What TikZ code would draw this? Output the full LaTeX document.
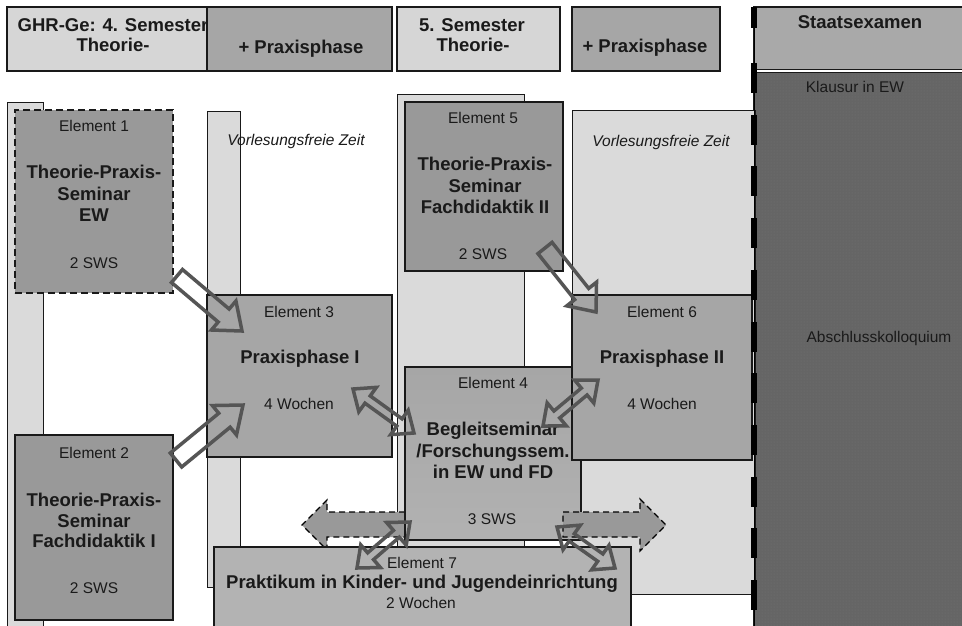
\documentclass[tikz,border=0pt]{standalone}
\usepackage{fontspec}
\setmainfont{Liberation Sans}
\usetikzlibrary{calc,patterns}
\definecolor{colLight}{HTML}{D6D6D6}
\definecolor{colCol}{HTML}{DADADA}
\definecolor{colMid}{HTML}{A6A6A6}
\definecolor{colDark}{HTML}{999999}
\definecolor{colSeven}{HTML}{B3B3B3}
\definecolor{colExam}{HTML}{A9A9A9}
\definecolor{colDeep}{HTML}{656565}
\definecolor{colDots}{HTML}{737373}
\definecolor{colArrow}{HTML}{555555}
\definecolor{colText}{HTML}{1A1A1A}
\newcommand\mysinglearrow[5]{%
  \coordinate (hh) at ($(#2)!#5!(#1)$);
  \draw[oarrow] ($(#1)!#3!90:(#2)$) -- ($(hh)!#3!-90:(#1)$) -- ($(hh)!#4!-90:(#1)$) -- (#2) -- ($(hh)!#4!90:(#1)$) -- ($(hh)!#3!90:(#1)$) -- ($(#1)!#3!-90:(#2)$) -- cycle;}
\newcommand\mydoublearrow[5]{%
  \coordinate (ha) at ($(#1)!#5!(#2)$);
  \coordinate (hb) at ($(#2)!#5!(#1)$);
  \draw[oarrow] (#1) -- ($(ha)!#4!90:(#2)$) -- ($(ha)!#3!90:(#2)$) -- ($(hb)!#3!-90:(#1)$) -- ($(hb)!#4!-90:(#1)$) -- (#2) -- ($(hb)!#4!90:(#1)$) -- ($(hb)!#3!90:(#1)$) -- ($(ha)!#3!-90:(#2)$) -- ($(ha)!#4!-90:(#2)$) -- cycle;}
\begin{document}
\begin{tikzpicture}[x=1pt,y=-1pt,
  box/.style={draw=black!90, line width=1.3pt, anchor=north west, inner sep=0pt, outer sep=0pt},
  txt/.style={anchor=base, inner sep=0pt, text=colText, font=\fontsize{15.5}{18}\selectfont},
  btxt/.style={anchor=base, inner sep=0pt, text=colText, font=\fontsize{18.5}{22}\selectfont\bfseries},
  itxt/.style={anchor=base, inner sep=0pt, text=colText, font=\fontsize{15.5}{18}\selectfont\itshape},
  oarrow/.style={draw=colArrow, line width=3.5pt, line join=miter},
  dsharrow/.style={fill=colDark, draw=black, line width=1.3pt, dash pattern=on 6pt off 4pt}]
\useasboundingbox (0,0) rectangle (962,625);
\fill[white] (0,0) rectangle (962,625);
\clip (0,0) rectangle (962,625);

% header
\node[box, fill=colLight, minimum width=200, minimum height=64] (hA) at (7,7) {};
\node[box, fill=colMid, minimum width=185, minimum height=64] (hB) at (207,7) {};
\node[box, fill=colLight, minimum width=163, minimum height=64] (hC) at (397,7) {};
\node[box, fill=colMid, minimum width=148, minimum height=64] (hD) at (572,7) {};
\node[btxt] (tA1) at (113,31) {GHR-Ge: 4. Semester};
\node[btxt] (tA2) at (113,51) {Theorie-};
\node[btxt] (tB) at (301,53) {+ Praxisphase};
\node[btxt] (tC1) at (472,31) {5. Semester};
\node[btxt] (tC2) at (473,51) {Theorie-};
\node[btxt] (tD) at (645,52) {+ Praxisphase};

% Staatsexamen
\node[box, fill=colExam, minimum width=220, minimum height=62.5] (hE) at (754,7) {};
\node[box, fill=colDeep, minimum width=220, minimum height=560] (exam) at (754,72.5) {};
\fill[pattern=dots, pattern color=colDots] (755,73.5) rectangle (962,625);
\node[btxt] (tE) at (860,28) {Staatsexamen};
\node[txt] (tK) at (855,92) {Klausur in EW};
\node[txt] (tAb) at (879,342) {Abschlusskolloquium};

% columns
\node[box, line width=1pt, fill=colCol, minimum width=36, minimum height=530] (col1) at (7,102) {};
\node[box, line width=1pt, fill=colCol, minimum width=33, minimum height=476] (col2) at (207,111) {};
\node[box, line width=1pt, fill=colCol, minimum width=127, minimum height=510] (col3) at (397,94) {};
\node[box, line width=1pt, fill=colCol, minimum width=183, minimum height=484] (col4) at (572,110) {};
\node[itxt] (vz1) at (296,145) {Vorlesungsfreie Zeit};
\node[itxt] (vz2) at (661,146) {Vorlesungsfreie Zeit};

% Element 1
\node[box, fill=colDark, dash pattern=on 7pt off 4pt, minimum width=158, minimum height=183] (e1) at (15,110) {};
\node[txt] (e1a) at (94,131) {Element 1};
\node[btxt] (e1b) at (94,178) {Theorie-Praxis-};
\node[btxt] (e1c) at (94,200) {Seminar};
\node[btxt] (e1d) at (94,221) {EW};
\node[txt] (e1e) at (94,268) {2 SWS};

% Element 2
\node[box, fill=colDark, minimum width=158, minimum height=185] (e2) at (15,435) {};
\node[txt] (e2a) at (94,458) {Element 2};
\node[btxt] (e2b) at (94,506) {Theorie-Praxis-};
\node[btxt] (e2c) at (94,527) {Seminar};
\node[btxt] (e2d) at (94,547) {Fachdidaktik I};
\node[txt] (e2e) at (94,593) {2 SWS};

% Element 3
\node[box, fill=colMid, minimum width=185, minimum height=162] (e3) at (207,295) {};
\node[txt] (e3a) at (299,317) {Element 3};
\node[btxt] (e3b) at (300,363) {Praxisphase I};
\node[txt] (e3c) at (299,409) {4 Wochen};

% Element 5
\node[box, fill=colDark, minimum width=158, minimum height=169] (e5) at (405,102) {};
\node[txt] (e5a) at (483,123) {Element 5};
\node[btxt] (e5b) at (485,170) {Theorie-Praxis-};
\node[btxt] (e5c) at (485,192) {Seminar};
\node[btxt] (e5d) at (485,213) {Fachdidaktik II};
\node[txt] (e5e) at (483,259) {2 SWS};

% left dashed arrow
\coordinate (dl1) at (405,512);
\draw[dsharrow] (dl1) -- (327,512) -- (327,500) -- (302,525) -- (327,550) -- (327,537) -- (405,537) -- cycle;

% Element 4
\node[box, top color=colMid, bottom color=colSeven!90!colMid, draw=black!90, minimum width=176, minimum height=173] (e4) at (405,367) {};
\node[txt] (e4a) at (493,388) {Element 4};
\node[btxt] (e4b) at (493,435) {Begleitseminar};
\node[btxt] (e4c) at (493,457) {/Forschungssem.};
\node[btxt] (e4d) at (493,478) {in EW und FD};
\node[txt] (e4e) at (492,524) {3 SWS};

% Element 6
\node[box, fill=colMid, minimum width=180, minimum height=165] (e6) at (572,295) {};
\node[txt] (e6a) at (662,317) {Element 6};
\node[btxt] (e6b) at (662,363) {Praxisphase II};
\node[txt] (e6c) at (662,409) {4 Wochen};

% right dashed arrow
\coordinate (dr1) at (563,512);
\draw[dsharrow] (dr1) -- (640,512) -- (640,499) -- (666,525) -- (640,551) -- (640,537) -- (563,537) -- cycle;

% Element 7
\node[box, fill=colSeven, minimum width=417, minimum height=90] (e7) at (214,547) {};
\node[txt] (e7a) at (422,568) {Element 7};
\node[btxt] (e7b) at (422,588) {Praktikum in Kinder- und Jugendeinrichtung};
\node[txt] (e7c) at (421,608) {2 Wochen};

% outline arrows
\coordinate (a1s) at (177,276); \coordinate (a1e) at (242,331);
\coordinate (a2s) at (176,460); \coordinate (a2e) at (243,405);
\coordinate (a3s) at (353,389); \coordinate (a3e) at (414,433);
\coordinate (a4s) at (543,426); \coordinate (a4e) at (598,380);
\coordinate (a5s) at (545,248); \coordinate (a5e) at (596,312);
\coordinate (a6s) at (357,568); \coordinate (a6e) at (410,522);
\coordinate (a7s) at (557,527); \coordinate (a7e) at (615,568);
\mysinglearrow{a1s}{a1e}{8.5pt}{19pt}{24pt}
\mysinglearrow{a2s}{a2e}{9pt}{19pt}{24pt}
\mysinglearrow{a5s}{a5e}{9pt}{19pt}{23pt}
\mydoublearrow{a3s}{a3e}{4.5pt}{15pt}{18pt}
\mydoublearrow{a4s}{a4e}{4.5pt}{15pt}{18pt}
\mydoublearrow{a6s}{a6e}{4.5pt}{15pt}{18pt}
\mydoublearrow{a7s}{a7e}{4.5pt}{15pt}{18pt}

% boundary line
\draw[line width=1pt] (754,7) -- (754,630);
\draw[line width=5.5pt] (754,7) -- (754,28);
\draw[line width=5.5pt, dash pattern=on 30pt off 21.7pt] (754,63) -- (754,630);
\end{tikzpicture}
\end{document}
